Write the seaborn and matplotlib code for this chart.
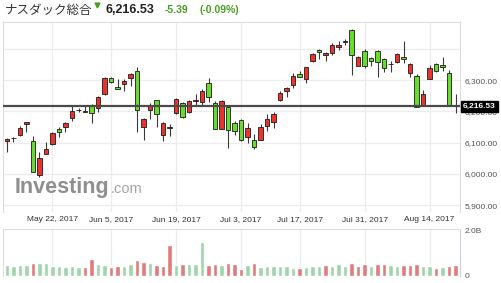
import matplotlib
matplotlib.use("Agg")
import matplotlib.pyplot as plt
import seaborn as sns
import pandas as pd
import numpy as np

sns.set_style("white")
plt.rcParams['font.family'] = ['Liberation Sans', 'DejaVu Sans']

# ---- data ----
holidays = ['2017-05-29', '2017-07-04']
dates = [d for d in pd.bdate_range('2017-05-11', '2017-08-18') if d.strftime('%Y-%m-%d') not in holidays]

opens = [6106, 6115, 6125, 6159, 6106, 5995, 6065, 6095, 6145, 6151,
         6180, 6204, 6203, 6221, 6212, 6256, 6306, 6279, 6289, 6308,
         6330, 6149, 6204, 6236, 6123, 6148, 6194, 6228, 6199, 6235,
         6231, 6292, 6226, 6143, 6213, 6164, 6173, 6119, 6109, 6107,
         6154, 6167, 6237, 6266, 6285, 6319, 6304, 6363, 6397, 6382,
         6386, 6407, 6423, 6461, 6347, 6394, 6370, 6394, 6368, 6353,
         6359, 6373, 6322, 6314, 6218, 6304, 6352, 6349, 6324, 6221]
highs = [6116, 6119, 6154, 6167, 6122, 6070, 6103, 6134, 6149, 6165,
         6218, 6210, 6218, 6224, 6250, 6309, 6311, 6304, 6304, 6324,
         6341, 6178, 6226, 6237, 6167, 6160, 6243, 6231, 6237, 6255,
         6271, 6306, 6234, 6237, 6218, 6170, 6176, 6162, 6127, 6159,
         6191, 6199, 6266, 6279, 6322, 6331, 6343, 6386, 6399, 6391,
         6418, 6426, 6432, 6463, 6378, 6399, 6373, 6397, 6372, 6363,
         6386, 6426, 6356, 6319, 6269, 6349, 6354, 6375, 6333, 6256]
lows = [6071, 6103, 6122, 6135, 6006, 5991, 6065, 6093, 6119, 6135,
        6170, 6197, 6197, 6162, 6197, 6253, 6290, 6271, 6267, 6282,
        6135, 6109, 6176, 6151, 6106, 6122, 6192, 6180, 6196, 6221,
        6221, 6231, 6144, 6143, 6084, 6125, 6106, 6098, 6080, 6107,
        6138, 6146, 6234, 6247, 6274, 6309, 6290, 6359, 6367, 6363,
        6381, 6397, 6413, 6317, 6345, 6338, 6347, 6311, 6327, 6325,
        6356, 6354, 6309, 6213, 6217, 6304, 6327, 6331, 6218, 6194]
closes = [6112, 6116, 6146, 6166, 6007, 6052, 6079, 6130, 6135, 6162,
          6202, 6205, 6199, 6194, 6247, 6306, 6293, 6273, 6298, 6320,
          6204, 6175, 6218, 6191, 6164, 6150, 6240, 6183, 6234, 6237,
          6266, 6245, 6144, 6234, 6140, 6138, 6107, 6148, 6086, 6151,
          6175, 6192, 6260, 6274, 6314, 6311, 6343, 6384, 6389, 6388,
          6413, 6414, 6424, 6381, 6373, 6347, 6362, 6359, 6340, 6352,
          6384, 6367, 6352, 6213, 6256, 6338, 6331, 6343, 6218, 6216.53]
volumes_b = [0.49, 0.46, 0.49, 0.49, 0.59, 0.56, 0.56, 0.44, 0.44, 0.41,
             0.44, 0.41, 0.41, 0.74, 0.53, 0.49, 0.41, 0.44, 0.44, 0.53,
             0.71, 0.62, 0.56, 0.49, 0.44, 1.35, 0.49, 0.53, 0.52, 0.52,
             1.48, 0.49, 0.53, 0.49, 0.56, 0.53, 0.30, 0.49, 0.55, 0.39,
             0.44, 0.44, 0.44, 0.44, 0.37, 0.37, 0.41, 0.44, 0.44, 0.49,
             0.44, 0.53, 0.44, 0.57, 0.44, 0.51, 0.44, 0.51, 0.51, 0.49,
             0.44, 0.49, 0.49, 0.51, 0.44, 0.44, 0.35, 0.39, 0.45, 0.49]

tick_dates = ['2017-05-22', '2017-06-05', '2017-06-19', '2017-07-03',
              '2017-07-17', '2017-07-31', '2017-08-14']
price_ticks = [5900, 6000, 6100, 6200, 6300, 6400]
last_price = 6216.53
title_name = 'ナスダック総合'
title_price = '6,216.53'
title_change = '-5.39'
title_pct = '(-0.09%)'

# ---- derived ----
idx = np.arange(len(dates))
O, H, L, C = map(np.array, (opens, highs, lows, closes))
body_col = np.where(C >= O, '#e8342c', '#66dd2a')
prev = np.concatenate([[C[0] - 1], C[:-1]])
vdir = np.where(C >= prev, 'up', 'down')
df = pd.DataFrame({'idx': idx, 'vol': volumes_b, 'dir': vdir})
date_str = [d.strftime('%Y-%m-%d') for d in dates]
tick_pos = [date_str.index(t) for t in tick_dates]
tick_lab = [pd.Timestamp(t).strftime('%b ') + str(pd.Timestamp(t).day) + ', 2017' for t in tick_dates]

W, Hh = 501, 283
fig = plt.figure(figsize=(W / 100, Hh / 100), dpi=100)

def fr(x0, y0, x1, y1):
    return [x0 / W, 1 - y1 / Hh, (x1 - x0) / W, (y1 - y0) / Hh]

ax = fig.add_axes(fr(3, 21.5, 460, 212))
axv = fig.add_axes(fr(3, 229, 460, 276))

xl = (-0.615, 69.69)
grid_c = '#ebebf0'
spine_c = '#dedede'

# candles
ax.vlines(idx, L, H, color='#3a3a3a', lw=0.8, zorder=2)
ax.bar(idx, np.maximum(np.abs(C - O), 1.2), bottom=np.minimum(O, C), width=0.68,
       color=body_col, edgecolor='#1c1c1c', linewidth=0.6, zorder=3)
ax.axhline(last_price, color='#4a4a4a', lw=1.6, zorder=4)

ax.set_xlim(*xl)
ax.set_ylim(5878, 6488)
ax.set_yticks(price_ticks)
ax.set_yticklabels([f'{v:,.2f}' for v in price_ticks[:-1]] + [''])
ax.yaxis.tick_right()
ax.set_xticks(tick_pos)
ax.set_xticklabels(tick_lab)
ax.tick_params(axis='both', length=0, labelsize=6, colors='#555555')
ax.tick_params(axis='x', pad=3, labelcolor='#333333')
ax.tick_params(axis='y', pad=3)
ax.grid(True, color=grid_c, lw=0.9, zorder=0)
ax.set_axisbelow(True)
for s in ['left', 'top', 'right']:
    ax.spines[s].set_color(spine_c)
    ax.spines[s].set_linewidth(0.8)
ax.spines['bottom'].set_visible(False)

ax.annotate('6,216.53', xy=(1.0, last_price), xycoords=('axes fraction', 'data'),
            xytext=(2, 0), textcoords='offset points', ha='left', va='center',
            fontsize=6, fontweight='bold', color='white', zorder=10,
            bbox=dict(boxstyle='square,pad=0.25', fc='black', ec='black'),
            annotation_clip=False)

# volume
sns.barplot(data=df, x='idx', y='vol', hue='dir', palette={'up': '#9fd5aa', 'down': '#e07c7c'},
            native_scale=True, width=0.7, dodge=False, errorbar=None, saturation=1,
            legend=False, ax=axv, zorder=3)
axv.set_xlim(*xl)
axv.set_ylim(0, 2.066)
axv.set_yticks([0, 2.0])
axv.set_yticklabels(['0', '2.0B'])
axv.yaxis.tick_right()
axv.set_xticks(tick_pos)
axv.set_xticklabels([])
axv.set_xlabel('')
axv.set_ylabel('')
axv.tick_params(axis='both', length=0, labelsize=6, colors='#555555', pad=3)
axv.grid(True, axis='x', color=grid_c, lw=0.9, zorder=0)
axv.set_axisbelow(True)
for s in ['left', 'top']:
    axv.spines[s].set_color(spine_c)
    axv.spines[s].set_linewidth(0.8)
axv.spines['right'].set_color('#c9cede')
axv.spines['bottom'].set_visible(False)

# watermark
fig.text(15 / W, 1 - 187 / Hh, 'Investing', fontsize=15.5, fontweight='bold', color='#8f8f8f',
         va='center', ha='left', family=['Liberation Sans'])
fig.text(111 / W, 1 - 189 / Hh, '.com', fontsize=10.5, color='#a3a3a3',
         va='center', ha='left', family=['Liberation Sans'])

# header
green = '#4a9e24'
fig.text(5 / W, 1 - 10.5 / Hh, title_name, fontsize=9, color='#333333', va='center', ha='left',
         family=['Noto Sans CJK JP', 'DejaVu Sans'])
fig.add_artist(plt.Line2D([97 / W], [1 - 5 / Hh], marker='v', ms=3.5, color=green,
                          transform=fig.transFigure))
fig.text(106 / W, 1 - 10 / Hh, title_price, fontsize=9, fontweight='bold', color='#222222',
         va='center', ha='left')
fig.text(165 / W, 1 - 10 / Hh, title_change, fontsize=7.5, fontweight='bold', color=green,
         va='center', ha='left')
fig.text(200 / W, 1 - 10 / Hh, title_pct, fontsize=7.5, fontweight='bold', color=green,
         va='center', ha='left')

fig.savefig('out.png', dpi=100)
